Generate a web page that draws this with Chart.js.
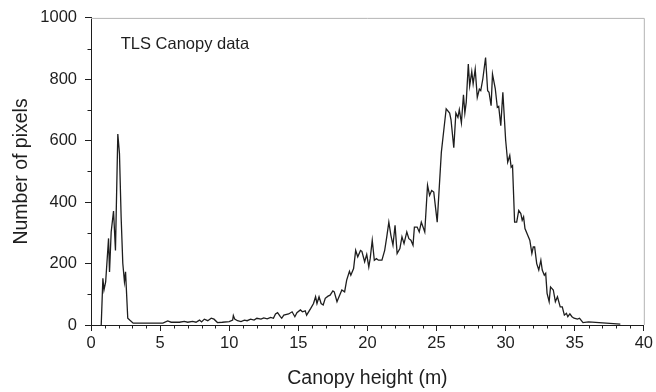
<!DOCTYPE html>
<html>
<head>
<meta charset="utf-8">
<script src="https://cdn.jsdelivr.net/npm/chart.js@4/dist/chart.umd.min.js"></script>
<style>
    html, body { margin: 0; padding: 0; background: #fff; }
    #wrap { width: 656px; height: 392px; }
</style>
</head>
<body>
<div id="wrap"><canvas id="heightChart"></canvas></div>
<script>
// canopy height bins (m) and pixel counts
const canopyHeights = [
    0.74, 0.86, 0.94, 1.06, 1.27, 1.34, 1.46, 1.63, 1.77, 1.94,
    2.06, 2.18, 2.30, 2.42, 2.50, 2.66, 2.80, 3.05, 5.20, 5.55,
    5.80, 6.40, 6.75, 7.00, 7.35, 7.60, 7.85, 8.00, 8.20, 8.45,
    8.70, 8.90, 9.15, 9.50, 10.00, 10.25, 10.30, 10.40, 10.60, 10.85,
    11.10, 11.30, 11.55, 11.80, 12.00, 12.30, 12.50, 12.75, 13.00, 13.20,
    13.35, 13.50, 13.70, 13.80, 13.95, 14.30, 14.55, 14.75, 14.90, 15.15,
    15.30, 15.50, 15.60, 15.90, 16.10, 16.25, 16.35, 16.50, 16.65, 16.80,
    16.95, 17.15, 17.30, 17.50, 17.60, 17.80, 17.90, 18.15, 18.35, 18.50,
    18.70, 18.80, 19.00, 19.15, 19.30, 19.50, 19.60, 19.80, 19.95, 20.10,
    20.20, 20.35, 20.50, 20.65, 20.80, 21.05, 21.25, 21.40, 21.55, 21.70,
    21.85, 22.00, 22.15, 22.35, 22.50, 22.65, 22.85, 23.00, 23.15, 23.30,
    23.40, 23.60, 23.75, 23.90, 24.15, 24.35, 24.50, 24.65, 24.80, 25.05,
    25.35, 25.55, 25.70, 25.95, 26.05, 26.25, 26.40, 26.55, 26.65, 26.80,
    26.95, 27.05, 27.15, 27.30, 27.40, 27.55, 27.65, 27.80, 27.95, 28.10,
    28.20, 28.35, 28.55, 28.70, 28.80, 28.95, 29.05, 29.25, 29.40, 29.50,
    29.65, 29.80, 30.00, 30.15, 30.30, 30.40, 30.50, 30.65, 30.80, 30.95,
    31.10, 31.20, 31.30, 31.40, 31.60, 31.75, 31.90, 32.00, 32.10, 32.25,
    32.40, 32.55, 32.65, 32.80, 32.90, 33.00, 33.15, 33.25, 33.45, 33.60,
    33.75, 33.95, 34.10, 34.25, 34.40, 34.50, 34.65, 34.80, 34.95, 35.20,
    35.35, 35.60, 36.00, 38.30
];
const pixelCounts = [
    0, 152, 114, 140, 282, 173, 303, 371, 243, 622,
    558, 352, 201, 141, 173, 22, 16, 6, 6, 13,
    9, 9, 12, 9, 12, 9, 16, 10, 19, 14,
    22, 19, 8, 9, 11, 16, 31, 19, 14, 11,
    16, 14, 19, 16, 22, 19, 23, 20, 25, 22,
    36, 40, 27, 22, 32, 36, 43, 27, 40, 49,
    43, 46, 32, 54, 70, 92, 70, 92, 70, 65,
    87, 94, 97, 111, 108, 76, 87, 114, 108, 146,
    175, 162, 184, 243, 222, 243, 240, 206, 230, 189,
    216, 276, 211, 216, 211, 211, 243, 287, 335, 292,
    260, 325, 233, 249, 287, 265, 303, 281, 276, 260,
    319, 319, 303, 335, 303, 455, 422, 438, 433, 335,
    563, 644, 704, 690, 668, 577, 690, 676, 701, 658,
    750, 690, 725, 850, 779, 825, 785, 833, 741, 768,
    763, 801, 871, 763, 758, 714, 817, 770, 709, 712,
    649, 758, 603, 530, 552, 514, 519, 335, 335, 373,
    363, 341, 352, 314, 292, 276, 233, 254, 254, 200,
    179, 211, 179, 162, 168, 103, 76, 124, 114, 76,
    92, 59, 59, 32, 38, 27, 36, 27, 22, 19,
    22, 8, 10, 3
];

const xTicks = [0, 5, 10, 15, 20, 25, 30, 35, 40];
const yTicks = [0, 200, 400, 600, 800, 1000];
const panelLabel = 'TLS Canopy data';

const FONT = 'Liberation Sans, Arial, Helvetica, sans-serif';
const INK = '#1e1e1e';

// short minor ticks every 1 m / 100 px, a light frame on top and right, the inset label
const frameAndMinorTicks = {
    id: 'frameAndMinorTicks',
    afterDraw(chart) {
        const { ctx, chartArea, scales } = chart;
        const { left, right, top, bottom } = chartArea;
        ctx.save();

        ctx.strokeStyle = '#b4b4b4';
        ctx.lineWidth = 1;
        ctx.beginPath();
        ctx.moveTo(left, top + 0.5);
        ctx.lineTo(right + 0.5, top + 0.5);
        ctx.lineTo(right + 0.5, bottom);
        ctx.stroke();

        ctx.strokeStyle = INK;
        ctx.beginPath();
        for (let v = 1; v < 40; v++) {
            if (v % 5 === 0) continue;
            const px = Math.round(scales.x.getPixelForValue(v)) + 0.5;
            ctx.moveTo(px, bottom);
            ctx.lineTo(px, bottom + 3.5);
        }
        for (let v = 100; v < 1000; v += 200) {
            const py = Math.round(scales.y.getPixelForValue(v)) + 0.5;
            ctx.moveTo(left, py);
            ctx.lineTo(left - 3.5, py);
        }
        ctx.stroke();

        ctx.fillStyle = INK;
        ctx.font = '16.5px ' + FONT;
        ctx.textBaseline = 'middle';
        ctx.fillText(panelLabel, scales.x.getPixelForValue(2.15), scales.y.getPixelForValue(912));
        ctx.restore();
    }
};

const points = canopyHeights.map((h, i) => ({ x: h, y: pixelCounts[i] }));

new Chart(document.getElementById('heightChart'), {
    type: 'line',
    data: {
        datasets: [{
            data: points,
            borderColor: INK,
            borderWidth: 1.3,
            pointRadius: 0,
            tension: 0,
            fill: false
        }]
    },
    options: {
        responsive: true,
        maintainAspectRatio: false,
        animation: false,
        layout: { padding: { left: 0, right: 8, top: 17, bottom: 0 } },
        plugins: {
            legend: { display: false },
            tooltip: { enabled: false }
        },
        scales: {
            x: {
                type: 'linear',
                min: 0,
                max: 40,
                afterBuildTicks: (scale) => { scale.ticks = xTicks.map(v => ({ value: v })); },
                afterFit: (scale) => { scale.height = 67; },
                border: { color: INK, width: 1 },
                grid: { drawOnChartArea: false, tickLength: 6, tickColor: INK },
                ticks: {
                    color: INK,
                    padding: 3,
                    maxRotation: 0,
                    autoSkip: false,
                    callback: (v) => String(v),
                    font: { family: FONT, size: 16.5 }
                },
                title: {
                    display: true,
                    text: 'Canopy height (m)',
                    color: INK,
                    padding: { top: 0, bottom: 2 },
                    font: { family: FONT, size: 19.5 }
                }
            },
            y: {
                min: 0,
                max: 1000,
                afterBuildTicks: (scale) => { scale.ticks = yTicks.map(v => ({ value: v })); },
                afterFit: (scale) => { scale.width = 91; },
                border: { color: INK, width: 1 },
                grid: { drawOnChartArea: false, tickLength: 6, tickColor: INK },
                ticks: {
                    color: INK,
                    padding: 8,
                    autoSkip: false,
                    callback: (v) => String(v),
                    font: { family: FONT, size: 16.5 }
                },
                title: {
                    display: true,
                    text: 'Number of pixels',
                    color: INK,
                    padding: { top: 10, bottom: 0 },
                    font: { family: FONT, size: 19.5 }
                }
            }
        }
    },
    plugins: [frameAndMinorTicks]
});
</script>
</body>
</html>
